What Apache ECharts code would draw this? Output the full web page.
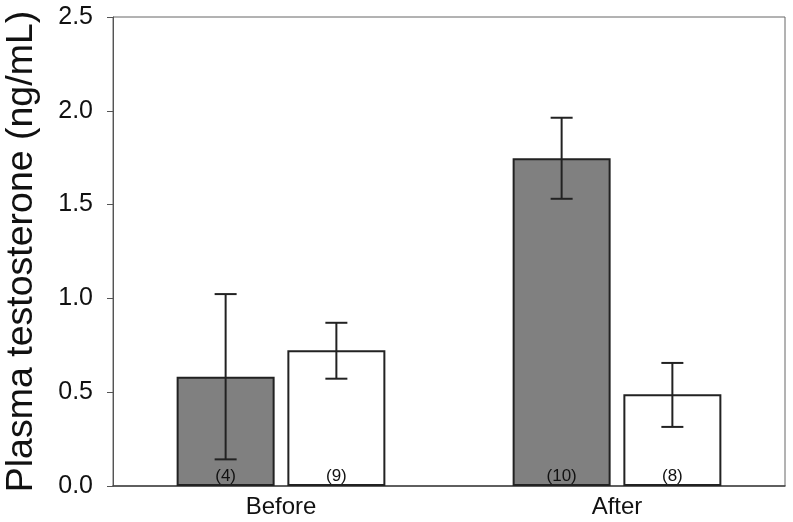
<!DOCTYPE html>
<html>
<head>
<meta charset="utf-8">
<script src="https://cdn.jsdelivr.net/npm/echarts@6/dist/echarts.min.js"></script>
<style>html,body{margin:0;padding:0;background:#fff}#c{width:793px;height:522px}</style>
</head>
<body>
<div id="c"></div>
<script>
const categories = ['Before', 'After'];
const grayMeans = [0.583, 1.747];
const grayLow = [0.142, 1.531];
const grayHigh = [1.023, 1.963];
const grayN = ['(4)', '(10)'];
const whiteMeans = [0.723, 0.489];
const whiteLow = [0.572, 0.315];
const whiteHigh = [0.870, 0.656];
const whiteN = ['(9)', '(8)'];
const yTicks = [0, 0.5, 1.0, 1.5, 2.0, 2.5];

const BAR_W = 98;
const GAP = 0.13;
const FONT = '"Liberation Sans", Arial, sans-serif';

function errSeries(low, high, side) {
  return {
    type: 'custom',
    z: 5,
    data: categories.map((c, i) => [i, low[i], high[i]]),
    renderItem: function (params, api) {
      const i = api.value(0);
      const off = side * (BAR_W * (1 + GAP)) / 2;
      const lo = api.coord([i, api.value(1)]);
      const hi = api.coord([i, api.value(2)]);
      const x = lo[0] + off;
      const cw = 11;
      const st = { stroke: '#222', lineWidth: 2 };
      return {
        type: 'group',
        children: [
          { type: 'line', shape: { x1: x, y1: lo[1], x2: x, y2: hi[1] }, style: st },
          { type: 'line', shape: { x1: x - cw, y1: lo[1], x2: x + cw, y2: lo[1] }, style: st },
          { type: 'line', shape: { x1: x - cw, y1: hi[1], x2: x + cw, y2: hi[1] }, style: st }
        ]
      };
    }
  };
}

const chart = echarts.init(document.getElementById('c'), null, { renderer: 'canvas' });
chart.setOption({
  animation: false,
  backgroundColor: '#fff',
  grid: { left: 113, right: 8, top: 17, bottom: 36, outerBoundsMode: 'none', containLabel: false, show: true, borderColor: '#666', borderWidth: 1, backgroundColor: 'transparent' },
  xAxis: {
    type: 'category',
    data: categories,
    axisLine: { lineStyle: { color: '#444', width: 1.5 } },
    axisTick: { show: false },
    axisLabel: { color: '#111', fontSize: 24, fontFamily: FONT, margin: 9 }
  },
  yAxis: {
    type: 'value',
    min: 0, max: 2.5, interval: 0.5,
    name: 'Plasma testosterone (ng/mL)',
    nameLocation: 'middle',
    nameGap: 72,
    nameTextStyle: { color: '#111', fontSize: 37.5, fontFamily: FONT },
    axisLine: { show: true, lineStyle: { color: '#555', width: 1 } },
    axisTick: { show: true, inside: false, length: 6, lineStyle: { color: '#555' } },
    splitLine: { show: false },
    axisLabel: {
      color: '#111', fontSize: 25, fontFamily: FONT, margin: 20,
      formatter: v => yTicks.includes(v) ? v.toFixed(1) : ''
    }
  },
  series: [
    {
      type: 'bar', barWidth: BAR_W, barGap: (GAP * 100) + '%',
      data: grayMeans,
      itemStyle: { color: '#808080', borderColor: '#222', borderWidth: 2 },
      label: { show: true, position: 'insideBottom', distance: 1, color: '#111', fontSize: 17, fontFamily: FONT,
        formatter: p => grayN[p.dataIndex] }
    },
    {
      type: 'bar', barWidth: BAR_W,
      data: whiteMeans,
      itemStyle: { color: '#fff', borderColor: '#222', borderWidth: 2 },
      label: { show: true, position: 'insideBottom', distance: 1, color: '#111', fontSize: 17, fontFamily: FONT,
        formatter: p => whiteN[p.dataIndex] }
    },
    errSeries(grayLow, grayHigh, -1),
    errSeries(whiteLow, whiteHigh, 1)
  ]
});
</script>
</body>
</html>
